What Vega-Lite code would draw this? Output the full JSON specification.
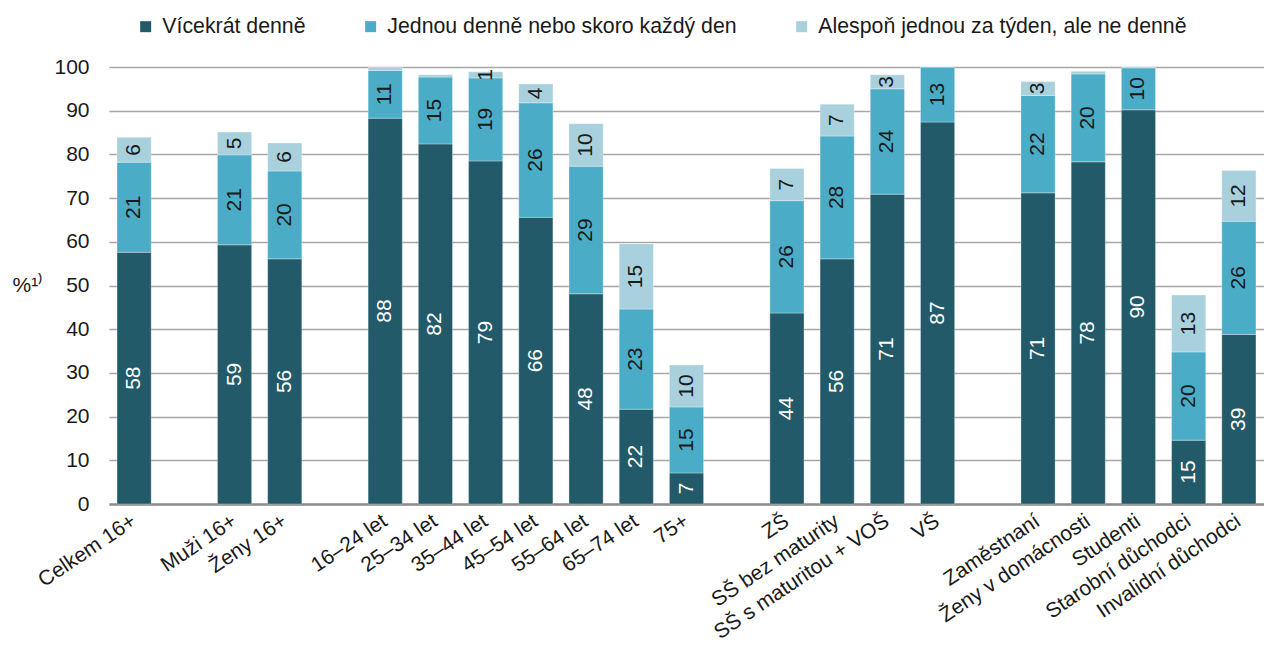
{
  "$schema": "https://vega.github.io/schema/vega-lite/v6.json",
  "autosize": {"type": "none"},
  "width": 1155,
  "height": 437,
  "padding": {"left": 109, "top": 67, "right": 0, "bottom": 142},
  "background": "white",
  "config": {
    "font": "Liberation Sans",
    "view": {"stroke": null}
  },
  "data": {
    "values": [
      {"skupina": "Celkem 16+", "vicekrat": 57.6, "jednou": 20.6, "alespon": 5.7},
      {"skupina": "Muži 16+", "vicekrat": 59.3, "jednou": 20.6, "alespon": 5.2},
      {"skupina": "Ženy 16+", "vicekrat": 56.1, "jednou": 20.1, "alespon": 6.4},
      {"skupina": "16–24 let", "vicekrat": 88.3, "jednou": 10.9, "alespon": 0.8},
      {"skupina": "25–34 let", "vicekrat": 82.4, "jednou": 15.3, "alespon": 0.5},
      {"skupina": "35–44 let", "vicekrat": 78.5, "jednou": 19.0, "alespon": 1.4},
      {"skupina": "45–54 let", "vicekrat": 65.6, "jednou": 26.2, "alespon": 4.3},
      {"skupina": "55–64 let", "vicekrat": 48.1, "jednou": 29.2, "alespon": 9.7},
      {"skupina": "65–74 let", "vicekrat": 21.7, "jednou": 22.9, "alespon": 14.9},
      {"skupina": "75+", "vicekrat": 7.1, "jednou": 15.1, "alespon": 9.6},
      {"skupina": "ZŠ", "vicekrat": 43.7, "jednou": 25.7, "alespon": 7.4},
      {"skupina": "SŠ bez maturity", "vicekrat": 56.1, "jednou": 28.1, "alespon": 7.3},
      {"skupina": "SŠ s maturitou + VOŠ", "vicekrat": 70.9, "jednou": 24.1, "alespon": 3.2},
      {"skupina": "VŠ", "vicekrat": 87.4, "jednou": 12.6, "alespon": 0},
      {"skupina": "Zaměstnaní", "vicekrat": 71.2, "jednou": 22.3, "alespon": 3.2},
      {"skupina": "Ženy v domácnosti", "vicekrat": 78.3, "jednou": 20.1, "alespon": 0.6},
      {"skupina": "Studenti", "vicekrat": 90.2, "jednou": 9.6, "alespon": 0.2},
      {"skupina": "Starobní důchodci", "vicekrat": 14.6, "jednou": 20.2, "alespon": 13.0},
      {"skupina": "Invalidní důchodci", "vicekrat": 38.8, "jednou": 25.9, "alespon": 11.6}
    ]
  },
  "transform": [
    {"fold": ["vicekrat", "jednou", "alespon"], "as": ["kat", "hodnota"]},
    {"stack": "hodnota", "groupby": ["skupina"], "sort": [{"field": "kat", "order": "descending"}], "as": ["y0", "y1"]},
    {"calculate": "(datum.y0 + datum.y1) / 2", "as": "ymid"}
  ],
  "encoding": {
    "x": {
      "field": "skupina",
      "type": "nominal",
      "title": null,
      "scale": {
        "domain": ["Celkem 16+", " ", "Muži 16+", "Ženy 16+", "  ", "16–24 let", "25–34 let", "35–44 let", "45–54 let", "55–64 let", "65–74 let", "75+", "   ", "ZŠ", "SŠ bez maturity", "SŠ s maturitou + VOŠ", "VŠ", "    ", "Zaměstnaní", "Ženy v domácnosti", "Studenti", "Starobní důchodci", "Invalidní důchodci"],
        "paddingInner": 0.32,
        "paddingOuter": 0.16
      },
      "axis": {
        "labelAngle": -34,
        "labelAlign": "right",
        "labelBaseline": "middle",
        "labelPadding": 15,
        "labelFontSize": 21,
        "labelColor": "#1a1a1a",
        "labelLimit": 400,
        "labelOverlap": false,
        "ticks": false,
        "domain": true,
        "domainColor": "#8c8c8c",
        "domainWidth": 2.5,
        "grid": false
      }
    }
  },
  "layer": [
    {
      "mark": {"type": "bar", "stroke": "#ffffff", "strokeWidth": 0.6, "strokeOpacity": 0.5},
      "encoding": {
        "y": {
          "field": "y1",
          "type": "quantitative",
          "scale": {"domain": [0, 100], "nice": false},
          "axis": {
            "values": [0, 10, 20, 30, 40, 50, 60, 70, 80, 90, 100],
            "title": "%¹⁾",
            "titleAngle": 0,
            "titleAlign": "left",
            "titleBaseline": "middle",
            "titleX": -97,
            "titleY": 218,
            "titleFontSize": 21,
            "titleFontWeight": "normal",
            "titleColor": "#1a1a1a",
            "labelFontSize": 21,
            "labelColor": "#1a1a1a",
            "labelPadding": 20,
            "ticks": false,
            "domain": false,
            "grid": true,
            "gridColor": "#a6a6a6",
            "gridWidth": 1.5
          }
        },
        "y2": {"field": "y0"},
        "color": {
          "field": "kat",
          "type": "nominal",
          "scale": {
            "domain": ["vicekrat", "jednou", "alespon"],
            "range": ["#235a69", "#4aacc6", "#a8d0dd"]
          },
          "legend": {
            "title": null,
            "orient": "none",
            "direction": "horizontal",
            "columns": 3,
            "legendX": 26,
            "legendY": -51,
            "symbolType": "square",
            "symbolSize": 121,
            "symbolStrokeWidth": 0,
            "labelFontSize": 21.3,
            "labelColor": "#1a1a1a",
            "labelOffset": 6,
            "labelLimit": 500,
            "columnPadding": 54,
            "labelExpr": "{'vicekrat': 'Vícekrát denně', 'jednou': 'Jednou denně nebo skoro každý den', 'alespon': 'Alespoň jednou za týden, ale ne denně'}[datum.label]"
          }
        }
      }
    },
    {
      "transform": [{"filter": "datum.hodnota >= 1"}],
      "mark": {"type": "text", "angle": 270, "align": "center", "baseline": "middle", "fontSize": 21},
      "encoding": {
        "y": {"field": "ymid", "type": "quantitative"},
        "text": {"field": "hodnota", "type": "quantitative", "format": ".0f"},
        "color": {
          "condition": {"test": "datum.kat === 'vicekrat'", "value": "#ffffff"},
          "value": "#1a1a1a"
        }
      }
    }
  ]
}
